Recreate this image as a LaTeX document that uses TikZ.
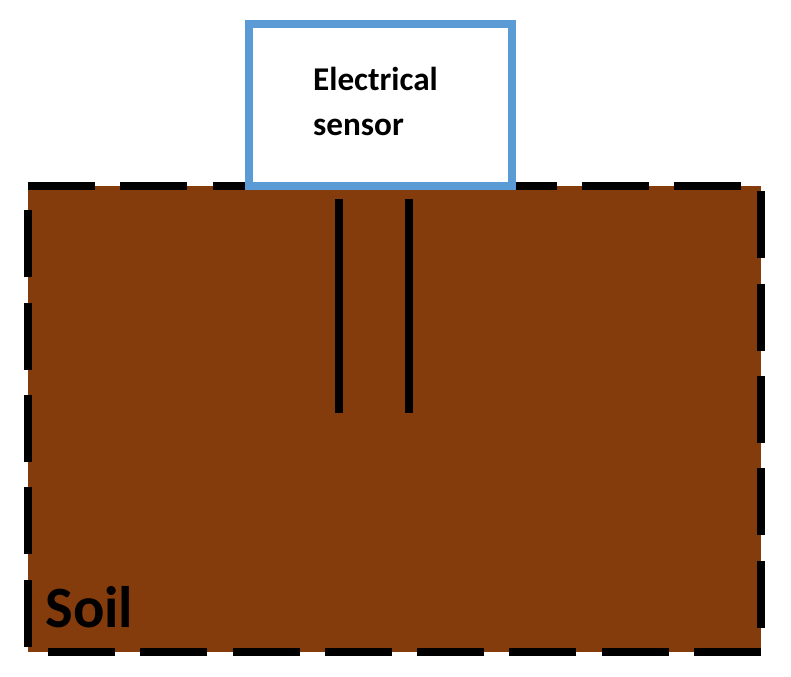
\documentclass[tikz,border=0pt]{standalone}
\usepackage{fontspec}
\setmainfont{Carlito}
\usepackage{tikz}

\definecolor{soilbrown}{HTML}{843C0C}
\definecolor{sensorblue}{HTML}{5B9BD5}

\begin{document}
\begin{tikzpicture}
        \useasboundingbox (0,0) rectangle (15.82,13.54);
        % soil
        \coordinate (tl) at (0.56, 9.82);
        \coordinate (tr) at (15.22, 9.82);
        \coordinate (br) at (15.22, 0.5);
        \coordinate (bl) at (0.56, 0.5);
        \fill[soilbrown] (tl) rectangle (br);
        \begin{scope}[line width=5.1pt, dash pattern=on 1.34cm off 0.506cm]
            \draw (tl) -- (tr) -- (br);
            \draw (br) -- (bl) -- (tl);
        \end{scope}

        % probes
        \coordinate (p1top) at (6.78, 9.56);
        \coordinate (p1bot) at (6.78, 5.28);
        \coordinate (p2top) at (8.18, 9.56);
        \coordinate (p2bot) at (8.18, 5.28);
        \draw[line width=5.1pt] (p1top) -- (p1bot);
        \draw[line width=5.1pt] (p2top) -- (p2bot);

        % sensor
        \node[draw=sensorblue, fill=white, line width=4.7pt, minimum width=5.262cm, minimum height=3.24cm, inner sep=0pt] (sensor) at (7.605, 11.44) {};

        \begin{scope}[every node/.style={inner sep=0pt, font=\bfseries}]
            \node[align=left, font=\fontsize{18.9}{25.6}\selectfont\bfseries] (sensorlabel) at (7.51, 11.52) {Electrical\\sensor};
            \node[anchor=base west, font=\fontsize{33.3}{32}\selectfont\bfseries] (soillabel) at (0.9, 0.98) {Soil};
        \end{scope}
    \end{tikzpicture}
\end{document}
